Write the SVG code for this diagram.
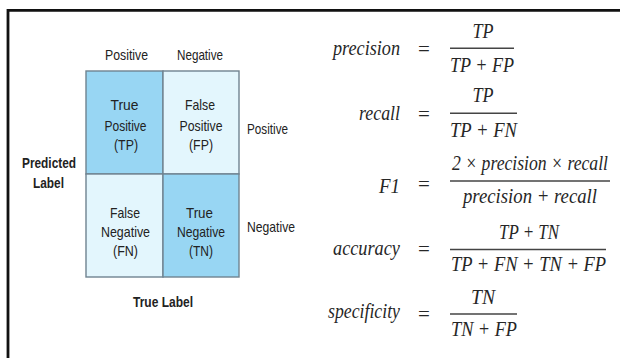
<svg xmlns="http://www.w3.org/2000/svg" width="620" height="358" viewBox="0 0 620 358">
<style>
.m{font-family:"Liberation Sans",Arial,sans-serif;font-size:15px;fill:#222}
.b{font-weight:bold}
.c{text-anchor:middle}
.f{font-family:"Liberation Serif","Times New Roman",serif;font-size:21px;font-style:italic;fill:#262626}
.eq{font-family:"Liberation Serif","Times New Roman",serif;font-size:21px;fill:#262626;text-anchor:middle}
.r{text-anchor:end}
.bar{stroke:#444;stroke-width:1.6}
.dk{fill:#98d6f3;stroke:#6f8390;stroke-width:1.4}
.lt{fill:#e3f6fd;stroke:#6f8390;stroke-width:1.4}
</style>
<rect width="620" height="358" fill="#fff"/>
<g id="frame"><path d="M8 358 V10.3 H620" fill="none" stroke="#111" stroke-width="2.8"/></g>

<g id="headers">
<text class="m c" x="126.5" y="59.5" textLength="43" lengthAdjust="spacingAndGlyphs">Positive</text>
<text class="m c" x="200" y="59.5" textLength="46" lengthAdjust="spacingAndGlyphs">Negative</text>
<text class="m" x="247" y="134" textLength="41" lengthAdjust="spacingAndGlyphs">Positive</text>
<text class="m" x="247" y="232" textLength="48" lengthAdjust="spacingAndGlyphs">Negative</text>
<text class="m b c" x="49" y="168" textLength="54" lengthAdjust="spacingAndGlyphs">Predicted</text>
<text class="m b c" x="48.5" y="188" textLength="31" lengthAdjust="spacingAndGlyphs">Label</text>
<text class="m b c" x="163" y="306.5" textLength="60" lengthAdjust="spacingAndGlyphs">True Label</text>
</g>

<g id="tp">
<rect class="dk" x="86" y="71" width="77" height="103"/>
<text class="m c" x="124.5" y="110" textLength="28" lengthAdjust="spacingAndGlyphs">True</text>
<text class="m c" x="125.5" y="130.5" textLength="42" lengthAdjust="spacingAndGlyphs">Positive</text>
<text class="m c" x="126" y="150" textLength="24" lengthAdjust="spacingAndGlyphs">(TP)</text>
</g>
<g id="fp">
<rect class="lt" x="163" y="71" width="76" height="103"/>
<text class="m c" x="200" y="110" textLength="30" lengthAdjust="spacingAndGlyphs">False</text>
<text class="m c" x="201" y="130.5" textLength="43" lengthAdjust="spacingAndGlyphs">Positive</text>
<text class="m c" x="201" y="150" textLength="24" lengthAdjust="spacingAndGlyphs">(FP)</text>
</g>
<g id="fn">
<rect class="lt" x="86" y="174" width="77" height="103"/>
<text class="m c" x="125" y="218" textLength="30" lengthAdjust="spacingAndGlyphs">False</text>
<text class="m c" x="125.5" y="237" textLength="49" lengthAdjust="spacingAndGlyphs">Negative</text>
<text class="m c" x="125.5" y="256" textLength="25" lengthAdjust="spacingAndGlyphs">(FN)</text>
</g>
<g id="tn">
<rect class="dk" x="163" y="174" width="76" height="103"/>
<text class="m c" x="199.5" y="218" textLength="27" lengthAdjust="spacingAndGlyphs">True</text>
<text class="m c" x="201" y="237" textLength="48" lengthAdjust="spacingAndGlyphs">Negative</text>
<text class="m c" x="201" y="256" textLength="24" lengthAdjust="spacingAndGlyphs">(TN)</text>
</g>

<g id="precision">
<text class="f r" x="400" y="55" textLength="67" lengthAdjust="spacingAndGlyphs">precision</text>
<text class="eq" x="424" y="55.5">=</text>
<text class="f c" x="483" y="38" textLength="21" lengthAdjust="spacingAndGlyphs">TP</text>
<line class="bar" x1="450" y1="48.3" x2="514" y2="48.3"/>
<text class="f" x="450" y="71.7" textLength="64" lengthAdjust="spacingAndGlyphs">TP + FP</text>
</g>
<g id="recall">
<text class="f r" x="400" y="120" textLength="41" lengthAdjust="spacingAndGlyphs">recall</text>
<text class="eq" x="424" y="120.5">=</text>
<text class="f c" x="483" y="101.7" textLength="21" lengthAdjust="spacingAndGlyphs">TP</text>
<line class="bar" x1="450" y1="113.3" x2="517" y2="113.3"/>
<text class="f" x="450" y="136.7" textLength="67" lengthAdjust="spacingAndGlyphs">TP + FN</text>
</g>
<g id="f1">
<text class="f r" x="400" y="193" textLength="21" lengthAdjust="spacingAndGlyphs">F1</text>
<text class="eq" x="424" y="191">=</text>
<text class="f" transform="translate(452 170) scale(0.85 1)" x="0" y="0" textLength="183.5" lengthAdjust="spacingAndGlyphs">2 × precision × recall</text>
<line class="bar" x1="450" y1="181" x2="610" y2="181"/>
<text class="f" x="463" y="203" textLength="134" lengthAdjust="spacingAndGlyphs">precision + recall</text>
</g>
<g id="accuracy">
<text class="f r" x="400" y="255" textLength="67" lengthAdjust="spacingAndGlyphs">accuracy</text>
<text class="eq" x="424" y="256">=</text>
<text class="f c" x="529" y="239" textLength="60" lengthAdjust="spacingAndGlyphs">TP + TN</text>
<line class="bar" x1="450" y1="249.5" x2="606" y2="249.5"/>
<text class="f" transform="translate(451 270.5) scale(0.85 1)" x="0" y="0" textLength="182.4" lengthAdjust="spacingAndGlyphs">TP + FN + TN + FP</text>
</g>
<g id="specificity">
<text class="f r" x="400" y="318" textLength="72" lengthAdjust="spacingAndGlyphs">specificity</text>
<text class="eq" x="424" y="321">=</text>
<text class="f c" x="483" y="303.5" textLength="24" lengthAdjust="spacingAndGlyphs">TN</text>
<line class="bar" x1="450" y1="314" x2="517" y2="314"/>
<text class="f" x="451" y="335.5" textLength="66" lengthAdjust="spacingAndGlyphs">TN + FP</text>
</g>
</svg>
